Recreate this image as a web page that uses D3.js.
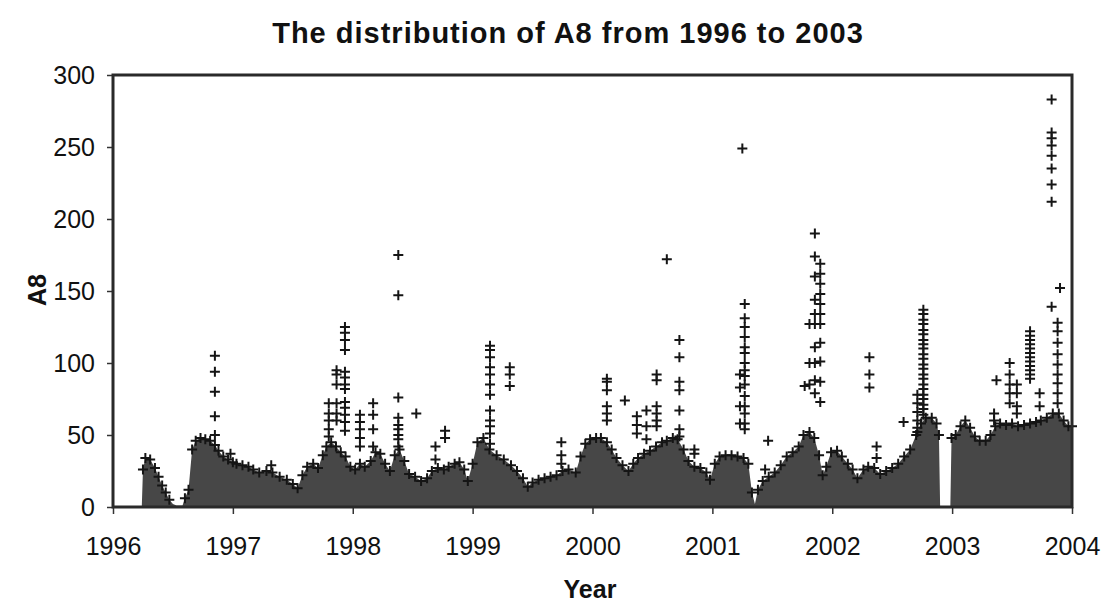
<!DOCTYPE html>
<html>
<head>
<meta charset="utf-8">
<script src="https://cdn.jsdelivr.net/npm/d3@7"></script>
<style>
    body { margin: 0; background: #fff; }
    text { font-family: "Liberation Sans", Arial, sans-serif; fill: #111; }
</style>
</head>
<body>
<svg></svg>
<script>
// dichte Punktwolke: obere Kante (Jahr, Wert)
const massYears = [1996.24, 1996.25, 1996.27, 1996.31, 1996.35, 1996.38, 1996.41, 1996.44, 1996.47, 1996.50,
    1996.53, 1996.58, 1996.60, 1996.63, 1996.66, 1996.69, 1996.73, 1996.77, 1996.81, 1996.85,
    1996.88, 1996.92, 1996.96, 1997.00, 1997.03, 1997.08, 1997.13, 1997.17, 1997.22, 1997.28,
    1997.33, 1997.39, 1997.45, 1997.50, 1997.54, 1997.58, 1997.62, 1997.67, 1997.71, 1997.75,
    1997.78, 1997.82, 1997.86, 1997.90, 1997.94, 1997.98, 1998.02, 1998.06, 1998.10, 1998.15,
    1998.19, 1998.23, 1998.27, 1998.31, 1998.35, 1998.39, 1998.43, 1998.47, 1998.52, 1998.57,
    1998.62, 1998.66, 1998.71, 1998.76, 1998.80, 1998.85, 1998.89, 1998.93, 1998.96, 1999.00,
    1999.04, 1999.09, 1999.14, 1999.20, 1999.26, 1999.32, 1999.37, 1999.42, 1999.46, 1999.50,
    1999.55, 1999.60, 1999.65, 1999.70, 1999.75, 1999.80, 1999.86, 1999.90, 1999.94, 1999.98,
    2000.03, 2000.07, 2000.12, 2000.16, 2000.20, 2000.25, 2000.30, 2000.34, 2000.38, 2000.43,
    2000.48, 2000.53, 2000.58, 2000.62, 2000.67, 2000.71, 2000.76, 2000.80, 2000.85, 2000.90,
    2000.95, 2000.98, 2001.02, 2001.06, 2001.11, 2001.16, 2001.21, 2001.26, 2001.30, 2001.33,
    2001.355, 2001.38, 2001.42, 2001.47, 2001.52, 2001.57, 2001.62, 2001.67, 2001.72, 2001.76,
    2001.81, 2001.85, 2001.89, 2001.92, 2001.95, 2001.99, 2002.04, 2002.08, 2002.13, 2002.17,
    2002.21, 2002.26, 2002.30, 2002.35, 2002.40, 2002.45, 2002.50, 2002.55, 2002.60, 2002.65,
    2002.70, 2002.74, 2002.78, 2002.83, 2002.87, 2002.89, 2002.90, 2002.985, 2002.995, 2003.03,
    2003.07, 2003.11, 2003.15, 2003.19, 2003.23, 2003.28, 2003.32, 2003.36, 2003.40, 2003.45,
    2003.50, 2003.55, 2003.60, 2003.65, 2003.70, 2003.74, 2003.79, 2003.84, 2003.89, 2003.93,
    2003.97, 2004.00];
const massTop = [0, 26, 34, 33, 27, 21, 15, 10, 5, 2,
    1, 1, 6, 12, 40, 46, 48, 47, 46, 43,
    39, 35, 33, 31, 30, 29, 28, 26, 24, 25,
    24, 21, 19, 16, 13, 22, 28, 30, 27, 36,
    42, 45, 42, 38, 35, 28, 26, 30, 28, 32,
    38, 37, 30, 25, 36, 40, 32, 23, 21, 18,
    20, 25, 27, 26, 28, 30, 31, 26, 18, 30,
    45, 48, 40, 36, 33, 29, 25, 20, 14, 17,
    19, 20, 21, 22, 25, 26, 24, 35, 44, 47,
    48, 48, 45, 40, 34, 29, 25, 30, 34, 37,
    39, 42, 45, 46, 48, 47, 40, 32, 28, 27,
    24, 19, 30, 35, 36, 36, 35, 34, 30, 10,
    2, 12, 18, 21, 24, 29, 35, 38, 42, 50,
    52, 48, 36, 22, 28, 38, 39, 35, 30, 26,
    20, 26, 28, 27, 23, 25, 27, 30, 35, 40,
    50, 58, 62, 62, 58, 50, 0, 0, 48, 50,
    56, 60, 55, 49, 46, 46, 50, 56, 58, 57,
    58, 56, 57, 58, 59, 60, 62, 65, 65, 60,
    56, 56];

// einzelne Ausreisser oberhalb der Wolke
const spikeYears = [1996.85, 1996.98, 1997.32, 1997.80, 1997.865, 1997.935, 1998.06, 1998.17, 1998.38, 1998.53,
    1998.69, 1998.77, 1999.145, 1999.31, 1999.74, 2000.12, 2000.27, 2000.37, 2000.45, 2000.535,
    2000.62, 2000.725, 2000.85, 2001.23, 2001.25, 2001.27, 2001.44, 2001.465, 2001.77, 2001.81,
    2001.855, 2001.90, 2002.31, 2002.37, 2002.595, 2002.71, 2002.76, 2003.35, 2003.37, 2003.48,
    2003.54, 2003.65, 2003.73, 2003.83, 2003.88, 2003.90];
const spikeValues = [
    [105, 94, 80, 63, 50], [37], [29], [72, 65, 60, 54, 49], [95, 92, 85, 72, 65, 60],
    [125, 121, 116, 109, 94, 90, 85, 82, 73, 69, 64, 59, 53], [64, 59, 54, 48, 42], [72, 64, 54, 42],
    [175, 147, 76, 62, 57, 54, 50, 47, 42], [65],
    [42, 33], [53, 48], [112, 109, 104, 97, 92, 85, 78, 67, 60, 56, 51, 44], [97, 92, 84], [45, 36, 30],
    [89, 87, 81, 70, 65, 60], [74], [63, 57, 51], [67, 56, 47], [92, 88, 70, 65, 60, 56],
    [172], [116, 104, 87, 81, 67, 54, 49], [40, 37], [92, 83, 70, 58], [249],
    [141, 131, 125, 118, 111, 107, 100, 95, 91, 85, 77, 70, 65, 58, 54], [26], [46], [84], [127, 100, 85],
    [190, 174, 160, 144, 134, 127, 111, 100, 88, 79], [169, 162, 155, 148, 141, 134, 127, 114, 101, 87, 73],
    [104, 92, 83], [42, 34], [59], [78, 72, 66, 60, 55, 52],
    [137, 134, 130, 127, 123, 120, 116, 113, 110, 106, 103, 99, 96, 92, 89, 85, 82, 78, 75, 71, 68, 64],
    [65, 60], [88], [100, 92, 85, 79, 72],
    [85, 79, 70, 65], [122, 119, 116, 113, 110, 107, 104, 101, 98, 95, 92, 89], [79, 70],
    [283, 260, 256, 251, 244, 235, 224, 212, 139], [128, 122, 114, 106, 99, 92, 86, 79, 72], [152]];

const yearTicks = [1996, 1997, 1998, 1999, 2000, 2001, 2002, 2003, 2004];
const valueTicks = [0, 50, 100, 150, 200, 250, 300];

let width = 1105,
    height = 604;

const svg = d3.select("svg")
    .attr("width", width)
    .attr("height", height);

const x = d3.scaleLinear().domain([1996, 2004]).range([113, 1072]);
const y = d3.scaleLinear().domain([0, 300]).range([507, 75]);

const mass = massYears.map((yr, i) => ({ year: yr, value: massTop[i] }));
const spikes = spikeYears.flatMap((yr, i) => spikeValues[i].map(v => ({ year: yr, value: v })));

// Wolke als Flaeche
svg.append("path")
    .datum(mass)
    .attr("fill", "#474747")
    .attr("d", d3.area()
        .x(d => x(d.year))
        .y0(y(0))
        .y1(d => y(d.value)));

// Kreuze
const plus = "M-5,0H5M0,-5V5";
svg.append("g").attr("class", "edgePoints")
    .selectAll("path")
    .data(mass.filter(d => d.value > 3))
    .enter()
    .append("path")
    .attr("d", plus)
    .attr("transform", d => `translate(${x(d.year)},${y(d.value)})`)
    .attr("stroke", "#151515")
    .attr("stroke-width", 2);

svg.append("g").attr("class", "spikes")
    .selectAll("path")
    .data(spikes)
    .enter()
    .append("path")
    .attr("d", plus)
    .attr("transform", d => `translate(${x(d.year)},${y(d.value)})`)
    .attr("stroke", "#151515")
    .attr("stroke-width", 2);

// Achsen
const xAxis = svg.append("g")
    .attr("transform", `translate(0,${y(0)})`)
    .call(d3.axisBottom(x).tickValues(yearTicks).tickFormat(d3.format("d")).tickSize(7).tickPadding(23));
const yAxis = svg.append("g")
    .attr("transform", `translate(${x(1996)},0)`)
    .call(d3.axisLeft(y).tickValues(valueTicks).tickSize(6).tickPadding(12));

[xAxis, yAxis].forEach(a => {
    a.select(".domain").remove();
    a.selectAll("line").attr("stroke", "#333").attr("stroke-width", 1.5);
    a.selectAll("text").attr("font-size", 25).attr("fill", "#111")
        .attr("font-family", "Liberation Sans, Arial, sans-serif");
});

// Rahmen
svg.append("rect")
    .attr("x", x(1996))
    .attr("y", y(300))
    .attr("width", x(2004) - x(1996))
    .attr("height", y(0) - y(300))
    .attr("fill", "none")
    .attr("stroke", "#2a2a2a")
    .attr("stroke-width", 3);

// Titel
svg.append("text")
    .attr("x", 568)
    .attr("y", 43)
    .attr("text-anchor", "middle")
    .attr("font-size", 29)
    .attr("font-weight", "bold")
    .attr("letter-spacing", 1)
    .text("The distribution of A8 from 1996 to 2003");

svg.append("text")
    .attr("x", 590)
    .attr("y", 598)
    .attr("text-anchor", "middle")
    .attr("font-size", 25)
    .attr("font-weight", "bold")
    .text("Year");

svg.append("text")
    .attr("transform", "translate(46,290) rotate(-90)")
    .attr("text-anchor", "middle")
    .attr("font-size", 25)
    .attr("font-weight", "bold")
    .text("A8");
</script>
</body>
</html>
